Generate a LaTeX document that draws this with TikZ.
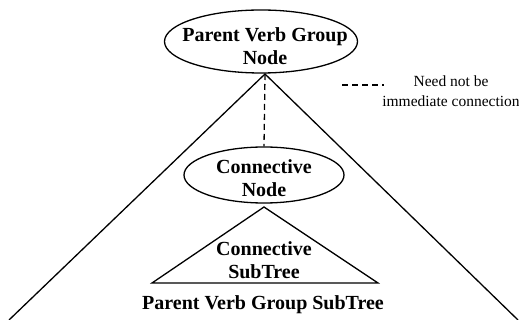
\documentclass[tikz,border=0pt]{standalone}
\usepackage{fontspec}
\setmainfont{Liberation Serif}
\usetikzlibrary{shapes.geometric}
\begin{document}
\begin{tikzpicture}[x=1pt,y=-1pt,line width=1.3pt,
  oval/.style={draw,ellipse,inner sep=0pt},
  lbl/.style={inner sep=0pt,align=center,font=\fontsize{20}{23.5}\selectfont\bfseries},
  note/.style={inner sep=0pt,align=center,font=\fontsize{15.5}{20}\selectfont},
  dsh/.style={dash pattern=on 6pt off 4pt}]
\useasboundingbox (0,0) rectangle (519,320);
\node[oval,minimum width=193pt,minimum height=63pt] (pvg) at (261,41.5) {};
\node[lbl] (pvgt) at (265,46) {Parent Verb Group\\Node};
\node[oval,minimum width=160pt,minimum height=56pt] (cn) at (264,175) {};
\node[lbl] (cnt) at (264,178) {Connective\\Node};
\coordinate (bl) at (9,320);
\coordinate (br) at (518,320);
\coordinate (sa) at (264,207);
\coordinate (sl) at (152,283);
\coordinate (sr) at (378,283);
\coordinate (apex) at (265,74);
\draw (bl) -- (apex) -- (br);
\draw[dsh] (apex) -- (cn.north);
\draw (sa) -- (sl) -- (sr) -- cycle;
\node[lbl] (cst) at (264,260) {Connective\\SubTree};
\node[lbl] (pst) at (263,305) {Parent Verb Group SubTree};
\coordinate (d1) at (342,85);
\coordinate (d2) at (384,85);
\draw[dsh] (d1) -- (d2);
\node[note] (nt) at (451,91) {Need not be\\immediate connection};
\end{tikzpicture}
\end{document}
